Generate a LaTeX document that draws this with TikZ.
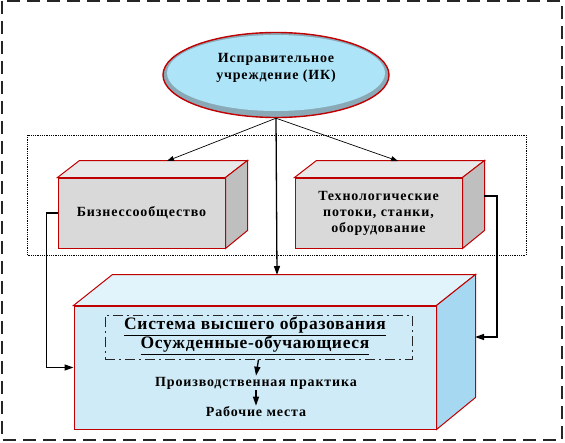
\documentclass[tikz,border=0pt]{standalone}
\usepackage{fontspec}
\setmainfont{Liberation Serif}
\usetikzlibrary{shapes}
\usetikzlibrary{positioning}
\usetikzlibrary{arrows.meta}
\usetikzlibrary{calc}
\definecolor{ikred}{HTML}{C00000}
\definecolor{ikblue}{HTML}{AEE4F7}
\definecolor{ikbevel}{HTML}{8AA9B7}
\definecolor{sysfront}{HTML}{CFEBF7}
\definecolor{systop}{HTML}{E1F3FB}
\definecolor{sysside}{HTML}{A6D9F1}
\definecolor{grfront}{HTML}{D9D9D9}
\definecolor{grtop}{HTML}{E8E8E8}
\definecolor{grside}{HTML}{BFBFBF}
\newcommand{\spaced}{\addfontfeature{LetterSpace=6}}
\tikzset{
    ikellipse/.style = {ellipse, line width=1.4pt, draw=ikred, fill=ikbevel, minimum width=226pt, minimum height=85pt, inner sep=0pt},
    boxfront/.style = {rectangle, line width=1pt, draw=ikred, fill=grfront, align=center, inner sep=0pt, font=\bfseries\fontsize{14}{16}\selectfont\spaced},
    sysfront/.style = {rectangle, line width=1pt, draw=ikred, fill=sysfront, inner sep=0pt},
    boxtop/.style = {line width=1pt, draw=ikred, fill=grtop},
    boxside/.style = {line width=1pt, draw=ikred, fill=grside},
    txt/.style = {align=center, inner sep=1pt, font=\bfseries\fontsize{14}{17}\selectfont\spaced},
    edgen/.style = {-{Triangle[length=7pt,width=5pt]}, line width=0.7pt, black},
    edgeb/.style = {-{Triangle[length=9pt,width=6pt]}, line width=1.3pt, black},
}
\begin{document}
\begin{tikzpicture}[x=1pt,y=-1pt]
\useasboundingbox (0,0) rectangle (565,442);
% frames
\draw[line width=1.6pt, gray!30!black, dash pattern=on 13pt off 7pt] (2,1) rectangle (562,440);
\draw[line width=0.8pt, black, densely dotted] (27,135) rectangle (526,255);

% correctional institution
\node[ikellipse] at (276,75) (ik) {};
\fill[ikblue] (276,73) ellipse [x radius=109, y radius=38];
\node[txt] at (276,68) (iktext) {Исправительное\\учреждение (ИК)};

% business community
\node[boxfront, minimum width=167pt, minimum height=70pt] at (141.5,213) (biz) {Бизнессообщество};
\draw[boxtop] (biz.north west) -- ++(22,-17) -- ($(biz.north east)+(22,-17)$) -- (biz.north east) -- cycle;
\draw[boxside] (biz.north east) -- ++(22,-17) -- ++(0,70) -- (biz.south east) -- cycle;

% technology
\node[boxfront, minimum width=167pt, minimum height=70pt] at (378.5,213) (tech) {Технологические\\потоки, станки,\\оборудование};
\draw[boxtop] (tech.north west) -- ++(22,-17) -- ($(tech.north east)+(22,-17)$) -- (tech.north east) -- cycle;
\draw[boxside] (tech.north east) -- ++(22,-17) -- ++(0,70) -- (tech.south east) -- cycle;

% higher education system
\node[sysfront, minimum width=362pt, minimum height=123pt] at (255,367.5) (sys) {};
\draw[boxtop, fill=systop] (sys.north west) -- ++(39,-31) -- ($(sys.north east)+(39,-31)$) -- (sys.north east) -- cycle;
\draw[boxside, fill=sysside] (sys.north east) -- ++(39,-31) -- ++(0,123) -- (sys.south east) -- cycle;

\node[rectangle, draw=gray!30!black, line width=1pt, dash pattern=on 10pt off 4pt on 2pt off 4pt, minimum width=307pt, minimum height=44pt] at (258.5,337) (vo) {};
\node[txt, font=\bfseries\fontsize{17.5}{19}\selectfont\addfontfeature{LetterSpace=4}] at (255,336) (votext) {\underline{Система высшего образования}\\\underline{Осужденные-обучающиеся}};
\node[txt] at (256,383) (prak) {Производственная практика};
\node[txt] at (256,412) (rab) {Рабочие места};

\coordinate (biztop) at (167,161);
\coordinate (techtop) at (398,161);
\coordinate (sysroof) at (277,275);
\coordinate (techedge) at (484,196);
\coordinate (sysedge) at (475,337);

\draw[edgen] (ik.south) -- (biztop);
\draw[edgen] (ik.south) -- (techtop);
\draw[edgeb] (ik.south) -- (sysroof);
\draw[edgeb] (biz.west) -- ++(-11,0) |- (sys.west);
\draw[edgeb] (techedge) -- ++(13,0) |- (sysedge);
\draw[edgeb] (vo.south) -- (prak.north);
\draw[edgeb] (prak.south) -- (rab.north);
\end{tikzpicture}
\end{document}
